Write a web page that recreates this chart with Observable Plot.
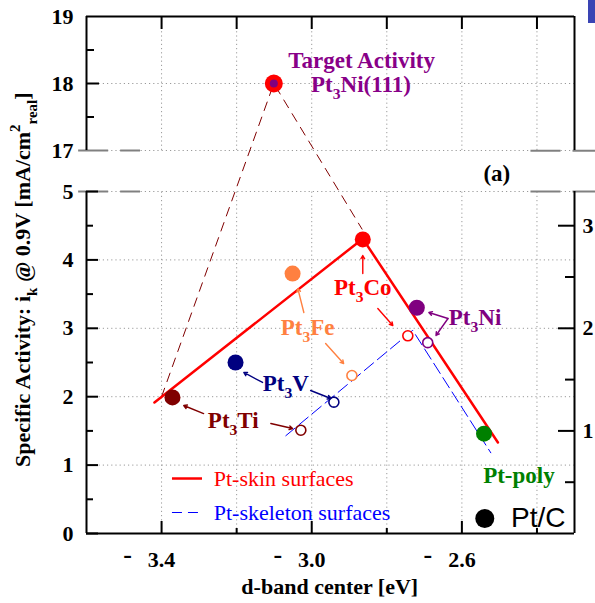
<!DOCTYPE html>
<html><head><meta charset="utf-8">
<script src="https://cdn.jsdelivr.net/npm/d3@7"></script>
<script src="https://cdn.jsdelivr.net/npm/@observablehq/plot@0.6"></script>
<style>
body{margin:0;background:#fff;}
#wrap{position:relative;width:595px;height:603px;overflow:hidden;background:#fff;}
#blue{position:absolute;left:588px;top:0;width:7px;height:23px;background:#3a44b4;}
svg{display:block}
g[aria-label="y-axis tick label"] text, g[aria-label="x-axis tick label"] text{font-weight:bold}
</style></head><body><div id="wrap"><div id="blue"></div></div>
<script>
// ---------- data ----------
const alloys = ["Pt_3Ti", "Pt_3V", "Pt_3Fe", "Pt_3Co", "Pt_3Ni", "Pt-poly"];
const alloyColors = ["#800000", "#000080", "#ff8040", "#ff0000", "#800080", "#008000"];
const dbandSkin = [-3.371, -3.203, -3.051, -2.864, -2.720, -2.541];
const activitySkin = [1.99, 2.50, 3.80, 4.30, 3.30, 1.46];
const dbandSkeleton = [-3.029, -2.941, -2.893, -2.744, -2.691];
const activitySkeleton = [1.51, 1.92, 2.31, 2.89, 2.79];
const targetDband = -3.101;
const targetActivity = 18.0;
const skinTrendX = [-3.419, -2.864, -2.504];
const skinTrendY = [1.915, 4.31, 1.33];
const skeletonTrendX = [-3.069, -2.731, -2.523];
const skeletonTrendY = [1.43, 2.97, 1.18];
const targetGuideX = [-3.40, -3.101, -2.866];
const targetGuideY = [2.0, 18.0, 4.45];

// axes / ticks
const xDomain = [-3.6, -2.3];
const yDomain = [0, 5, 17, 19];           // broken axis: 0–5 and 17–19
const yRange = [533, 191, 150, 16];
const xTicks = [-3.4, -3.2, -3.0, -2.8, -2.6, -2.4];
const xLabelTicks = [-3.4, -3.0, -2.6];
const yLabelTicks = [0, 1, 2, 3, 4, 5, 17, 18, 19];
const yGridTicks = [1, 2, 3, 4, 5, 17, 18];
const yMinorLower = [0.5, 1.5, 2.5, 3.5, 4.5];
const yMajorLower = [0, 1, 2, 3, 4, 5];
const yMinorUpper = [17.5, 18.5];
const yMajorUpper = [18];
const rightTickLabels = [1, 2, 3];
const rightMinor = [0.5, 1.5, 2.5];
const rightFactor = 1.5; // right axis value × 1.5 = left axis value

// ---------- helpers ----------
const kx = (xDomain[1] - xDomain[0]) / (574 - 86); // eV per pixel
const kyL = 5 / (533 - 191);                       // units per px, lower panel
const kyU = 2 / (150 - 16);                        // units per px, upper panel
const idx = n => Array.from({length: n}, (_, i) => i);

const purple = "#800080", red = "#ff0000", orange = "#ff8040", navy = "#000080",
      dred = "#800000", green = "#008000", blue = "#0000ff";
const serif = "Liberation Serif, Times New Roman, serif";

const labels = [
  {t: "Target Activity", x: -2.867, y: 18.343, c: "#880088"},
  {t: "Pt_3Ni(111)", x: -2.869, y: 17.985, c: "#880088"},
  {t: "(a)", x: -2.507, y: 10.3, c: "#000"},
  {t: "Pt_3Co", x: -2.864, y: 3.596, c: red},
  {t: "Pt_3Fe", x: -3.011, y: 3.01, c: orange},
  {t: "Pt_3Ni", x: -2.565, y: 3.158, c: purple},
  {t: "Pt_3V", x: -3.069, y: 2.193, c: navy},
  {t: "Pt_3Ti", x: -3.209, y: 1.652, c: dred},
  {t: "Pt-poly", x: -2.448, y: 0.848, c: green}
];
const arrows = [
  {x1: -3.288, y1: 1.754, x2: -3.341, y2: 1.871, c: dred},
  {x1: -3.109, y1: 1.608, x2: -3.051, y2: 1.535, c: dred},
  {x1: -3.131, y1: 2.208, x2: -3.181, y2: 2.354, c: navy},
  {x1: -3.003, y1: 2.091, x2: -2.949, y2: 1.974, c: navy},
  {x1: -3.021, y1: 3.231, x2: -3.037, y2: 3.58, c: orange},
  {x1: -2.963, y1: 2.778, x2: -2.915, y2: 2.485, c: orange},
  {x1: -2.864, y1: 3.80, x2: -2.864, y2: 4.064, c: red},
  {x1: -2.824, y1: 3.289, x2: -2.784, y2: 3.041, c: red},
  {x1: -2.637, y1: 3.143, x2: -2.688, y2: 3.231, c: purple},
  {x1: -2.637, y1: 3.143, x2: -2.669, y2: 2.895, c: purple}
];
const breakSegments = [
  {y: 17, x1: -3.621, x2: -3.541}, {y: 17, x1: -3.509, x2: -3.456},
  {y: 5, x1: -3.621, x2: -3.541}, {y: 5, x1: -3.509, x2: -3.456},
  {y: 16.93, x1: -2.416, x2: -2.336}, {y: 16.93, x1: -2.304, x2: -2.243},
  {y: 5, x1: -2.416, x2: -2.336}, {y: 5, x1: -2.304, x2: -2.243}
];

const grid = {stroke: "#9a9a9a", strokeDasharray: "1.2,3", strokeWidth: 1};

const chart = Plot.plot({
  width: 595, height: 603,
  marginLeft: 86, marginRight: 21, marginTop: 16, marginBottom: 70,
  x: {domain: xDomain, axis: null},
  y: {type: "linear", domain: yDomain, range: yRange, axis: null},
  color: {type: "identity"},
  style: {fontFamily: serif, background: "transparent", overflow: "visible"},
  marks: [
    // grid
    Plot.ruleX(xTicks, {x: d => d, y1: 0, y2: 5, ...grid}),
    Plot.ruleX(xTicks, {x: d => d, y1: 17, y2: 19, ...grid}),
    Plot.ruleY(yGridTicks, {y: d => d, x1: xDomain[0], x2: xDomain[1], ...grid}),
    // trend lines
    Plot.line(idx(3), {x: i => targetGuideX[i], y: i => targetGuideY[i], stroke: dred, strokeWidth: 1, strokeDasharray: "9,7"}),
    Plot.line(idx(3), {x: i => skeletonTrendX[i], y: i => skeletonTrendY[i], stroke: blue, strokeWidth: 1, strokeDasharray: "12,5"}),
    Plot.line(idx(3), {x: i => skinTrendX[i], y: i => skinTrendY[i], stroke: red, strokeWidth: 2.5}),
    // points
    Plot.dot(idx(5), {x: i => dbandSkeleton[i], y: i => activitySkeleton[i], r: 5, fill: "white", stroke: i => alloyColors[i], strokeWidth: 1.6}),
    Plot.dot(idx(6), {x: i => dbandSkin[i], y: i => activitySkin[i], r: 8, fill: i => alloyColors[i]}),
    Plot.dot([0], {x: targetDband, y: targetActivity, r: 9, fill: red}),
    Plot.dot([0], {x: targetDband, y: targetActivity, r: 4, fill: purple}),
    // annotation arrows
    Plot.arrow(arrows, {x1: "x1", y1: "y1", x2: "x2", y2: "y2", stroke: "c", strokeWidth: 1.4, headLength: 4}),
    // labels
    Plot.text(labels, {x: "x", y: "y", text: "t", fill: "c", fontSize: 23, fontWeight: "bold"}),
    // legend
    Plot.ruleY([0.804], {y: d => d, x1: -3.371, x2: -3.291, stroke: red, strokeWidth: 2.5}),
    Plot.ruleY([0.307], {y: d => d, x1: -3.371, x2: -3.291, stroke: blue, strokeWidth: 1, strokeDasharray: "10,6"}),
    Plot.text(["Pt-skin surfaces"], {x: -3.261, y: 0.804, text: d => d, fill: red, fontSize: 22, textAnchor: "start"}),
    Plot.text(["Pt-skeleton surfaces"], {x: -3.261, y: 0.307, text: d => d, fill: blue, fontSize: 22, textAnchor: "start"}),
    Plot.dot([0], {x: -2.539, y: 0.219, r: 9.5, fill: "black"}),
    Plot.text(["Pt/C"], {x: -2.469, y: 0.219, text: d => d, fill: "black", fontSize: 28, textAnchor: "start", fontFamily: "Liberation Sans, Arial, sans-serif"}),
    // break marks
    Plot.ruleY(breakSegments, {y: "y", x1: "x1", x2: "x2", stroke: "#808080", strokeWidth: 2}),
    // frame / axis lines
    Plot.ruleX([xDomain[0], xDomain[1]], {x: d => d, y1: 0, y2: 5, stroke: "black", strokeWidth: 2}),
    Plot.ruleX([xDomain[0], xDomain[1]], {x: d => d, y1: 17, y2: 19, stroke: "black", strokeWidth: 2}),
    Plot.ruleY([0, 19], {y: d => d, x1: xDomain[0], x2: xDomain[1], stroke: "black", strokeWidth: 2}),
    // tick marks (inward)
    Plot.ruleY(yMajorLower, {y: d => d, x1: xDomain[0], x2: xDomain[0] + 12 * kx, stroke: "black", strokeWidth: 2}),
    Plot.ruleY(yMinorLower, {y: d => d, x1: xDomain[0], x2: xDomain[0] + 7 * kx, stroke: "black", strokeWidth: 2}),
    Plot.ruleY(yMajorUpper, {y: d => d, x1: xDomain[0], x2: xDomain[0] + 13 * kx, stroke: "black", strokeWidth: 2}),
    Plot.ruleY(yMinorUpper, {y: d => d, x1: xDomain[0], x2: xDomain[0] + 8 * kx, stroke: "black", strokeWidth: 2}),
    Plot.ruleY(rightTickLabels, {y: d => d * rightFactor, x1: xDomain[1], x2: xDomain[1] - 16 * kx, stroke: "black", strokeWidth: 2}),
    Plot.ruleY(rightMinor, {y: d => d * rightFactor, x1: xDomain[1], x2: xDomain[1] - 9 * kx, stroke: "black", strokeWidth: 2}),
    Plot.ruleX(xTicks, {x: d => d, y1: 19, y2: 19 - 13 * kyU, stroke: "black", strokeWidth: 2}),
    Plot.ruleX(xTicks, {x: d => d, y1: 0, y2: d => (xLabelTicks.includes(d) ? 12 : 5) * kyL, stroke: "black", strokeWidth: 2}),
    // tick labels
    Plot.axisY({ticks: yLabelTicks, tickSize: 0, tickPadding: 13, fontSize: 22, fontWeight: "bold", label: null, tickFormat: d => String(d)}),
    Plot.axisY({anchor: "right", ticks: rightTickLabels.map(d => d * rightFactor), tickSize: 0, tickPadding: 8, fontSize: 22, fontWeight: "bold", label: null, tickFormat: d => String(Math.round(d / rightFactor))}),
    Plot.axisX({ticks: xLabelTicks, tickSize: 0, tickPadding: 18, fontSize: 22, fontWeight: "bold", label: null, tickFormat: d => Math.abs(d).toFixed(1)}),
    Plot.text(xLabelTicks, {x: d => d, frameAnchor: "bottom", dx: -34, dy: 29, text: () => "-", fontSize: 26, fontWeight: "bold"}),
    // axis titles
    Plot.text(["d-band center [eV]"], {x: -2.952, frameAnchor: "bottom", dy: 60, text: d => d, fontSize: 22, fontWeight: "bold"}),
    Plot.text(["Specific Activity: i_k @ 0.9V [mA/cm^2_{real}]"], {x: xDomain[0], y: 3.71, dx: -64, rotate: -90, text: d => d, fontSize: 22, fontWeight: "bold"})
  ]
});

document.getElementById("wrap").appendChild(chart);

// sub/superscript rendering: "_x" / "_{..}" and "^x" / "^{..}"
d3.select(chart).selectAll("text").each(function() {
  const s = this.textContent;
  if (!/[_^]/.test(s)) return;
  const fs = parseFloat(getComputedStyle(this).fontSize) || 20;
  const re = /([_^])(\{[^}]*\}|\S)/g;
  const parts = [];
  let last = 0, m;
  while ((m = re.exec(s))) {
    if (m.index > last) parts.push({t: s.slice(last, m.index), off: 0});
    const body = m[2].startsWith("{") ? m[2].slice(1, -1) : m[2];
    parts.push({t: body, off: m[1] === "_" ? 0.32 * fs : -0.42 * fs, small: true});
    last = re.lastIndex;
  }
  if (last < s.length) parts.push({t: s.slice(last), off: 0});
  const el = d3.select(this);
  el.selectAll("*").remove();
  this.textContent = "";
  let cur = 0;
  for (const p of parts) {
    const ts = el.append("tspan").text(p.t).attr("dy", p.off - cur);
    if (p.small) ts.attr("font-size", 0.68 * fs);
    cur = p.off;
  }
});
</script></body></html>
